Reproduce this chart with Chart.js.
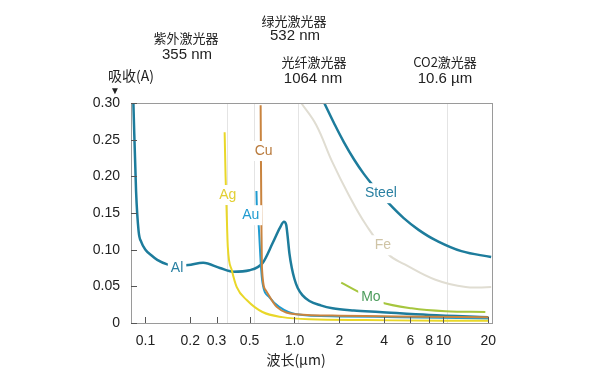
<!DOCTYPE html>
<html>
<head>
<meta charset="utf-8">
<script src="https://cdn.jsdelivr.net/npm/chart.js@4"></script>
<style>
  body { margin: 0; background: #fff; }
  #wrap { width: 600px; height: 373px; }
</style>
</head>
<body>
<div id="wrap"><canvas id="myChart" width="600" height="373"></canvas></div>
<script>
// wavelength (µm) / absorption (A)
const alX = [0.083, 0.0865, 0.09, 0.094, 0.10, 0.11, 0.12, 0.14, 0.165, 0.194, 0.244, 0.316, 0.386, 0.50, 0.612, 0.714, 0.80, 0.85, 0.88, 0.90, 0.925, 0.96, 1.0, 1.05, 1.13, 1.26, 1.5, 1.8, 2.5, 3.7, 8, 20];
const alY = [0.300, 0.180, 0.125, 0.110, 0.100, 0.092, 0.086, 0.080, 0.078, 0.079, 0.082, 0.075, 0.070, 0.072, 0.082, 0.109, 0.130, 0.138, 0.134, 0.118, 0.095, 0.075, 0.060, 0.048, 0.038, 0.030, 0.024, 0.020, 0.017, 0.015, 0.011, 0.008];

const agX = [0.340, 0.345, 0.350, 0.357, 0.38, 0.41, 0.48, 0.61, 0.83, 1.26, 3, 10, 20];
const agY = [0.260, 0.200, 0.158, 0.104, 0.072, 0.049, 0.031, 0.015, 0.008, 0.005, 0.004, 0.003, 0.003];

const auX = [0.556, 0.558, 0.566, 0.575, 0.594, 0.61, 0.68, 0.79, 1.03, 2, 5, 20];
const auY = [0.180, 0.164, 0.150, 0.134, 0.082, 0.055, 0.035, 0.022, 0.012, 0.009, 0.008, 0.006];

const cuX = [0.593, 0.596, 0.600, 0.605, 0.64, 0.76, 1.03, 2, 5, 20];
const cuY = [0.297, 0.220, 0.140, 0.076, 0.045, 0.022, 0.012, 0.010, 0.009, 0.008];

const steelX = [1.585, 1.848, 2.154, 2.512, 2.929, 3.415, 4.30, 5.41, 6.81, 8.84, 13.2, 20.9];
const steelY = [0.300, 0.272, 0.246, 0.223, 0.203, 0.186, 0.163, 0.143, 0.127, 0.113, 0.098, 0.090];

const feX = [1.11, 1.40, 1.79, 2.31, 3.02, 4.3, 5.5, 8.84, 14.1, 20.9];
const feY = [0.300, 0.270, 0.220, 0.175, 0.134, 0.093, 0.080, 0.059, 0.049, 0.049];

const moX = [2.06, 2.71, 3.69, 6.12, 10.3, 19.1];
const moY = [0.055, 0.042, 0.029, 0.020, 0.016, 0.015];

const xTicks = [0.1, 0.2, 0.3, 0.5, 1, 2, 4, 6, 8, 10, 20];
const xTickLabels = ['0.1', '0.2', '0.3', '0.5', '1.0', '2', '4', '6', '8', '10', '20'];
const laserLines = [0.355, 0.532, 1.064, 10.6];

// curve names and where they sit (data units)
const curveNames = ['Al', 'Ag', 'Au', 'Cu', 'Steel', 'Fe', 'Mo'];
const nameX = [0.163, 0.357, 0.509, 0.621, 3.80, 3.92, 3.26];
const nameY = [0.075, 0.1745, 0.147, 0.2345, 0.177, 0.106, 0.0355];
const nameColors = ['#2a80a2', '#e2cf33', '#1f9bd0', '#b97a3c', '#2a80a2', '#cfc4a6', '#4c9c5c'];

const LAT = '"Liberation Sans", Arial, sans-serif';
const CJK = '"Noto Sans CJK SC", "Liberation Sans", sans-serif';

function pts(xs, ys) {
    return xs.map((x, i) => ({x: x, y: ys[i]}));
}

function line(data, color, width, smooth) {
    const ds = {
        data: data,
        borderColor: color,
        borderWidth: width,
        pointRadius: 0,
        fill: false
    };
    if (smooth) ds.tension = 0.4;
    else ds.cubicInterpolationMode = 'monotone';
    return ds;
}

const decor = {
    id: 'decor',
    beforeDatasetsDraw(chart) {
        const {ctx, chartArea: a, scales} = chart;
        ctx.save();
        ctx.strokeStyle = '#e4e4e4';
        ctx.lineWidth = 1;
        laserLines.forEach((v) => {
            const px = Math.round(scales.x.getPixelForValue(v)) + 0.5;
            ctx.beginPath();
            ctx.moveTo(px, a.top);
            ctx.lineTo(px, a.bottom);
            ctx.stroke();
        });
        ctx.restore();
    },
    afterDatasetsDraw(chart) {
        const {ctx, scales} = chart;
        ctx.save();
        ctx.font = '14px ' + LAT;
        ctx.textAlign = 'center';
        ctx.textBaseline = 'middle';
        curveNames.forEach((n, i) => {
            const px = scales.x.getPixelForValue(nameX[i]);
            const py = scales.y.getPixelForValue(nameY[i]);
            const w = ctx.measureText(n).width;
            ctx.fillStyle = '#fff';
            ctx.fillRect(px - w / 2 - 3, py - 10, w + 6, 20);
            ctx.fillStyle = nameColors[i];
            ctx.fillText(n, px, py);
        });
        ctx.restore();
    },
    afterDraw(chart) {
        const {ctx, chartArea: a, scales} = chart;
        ctx.save();
        // frame
        ctx.strokeStyle = '#9a9a9a';
        ctx.lineWidth = 1;
        ctx.strokeRect(a.left + 0.5, a.top + 0.5, a.right - a.left - 1, a.bottom - a.top);
        // inner tick marks
        ctx.strokeStyle = '#555';
        ctx.beginPath();
        xTicks.forEach((v) => {
            const px = Math.round(scales.x.getPixelForValue(v)) + 0.5;
            ctx.moveTo(px, a.bottom);
            ctx.lineTo(px, a.bottom - 6);
        });
        for (let v = 0; v <= 0.3001; v += 0.05) {
            const py = Math.round(scales.y.getPixelForValue(v)) + 0.5;
            ctx.moveTo(a.left, py);
            ctx.lineTo(a.left + 6, py);
        }
        ctx.stroke();

        // texts
        ctx.fillStyle = '#222';
        ctx.textAlign = 'center';
        ctx.textBaseline = 'middle';
        const t = (s, x, y, f) => { ctx.font = f; ctx.fillText(s, x, y); };
        t('紫外激光器', 186, 38, '13px ' + CJK);
        t('355 nm', 187, 55, '15px ' + LAT);
        t('绿光激光器', 294, 21, '13px ' + CJK);
        t('532 nm', 295, 36, '15px ' + LAT);
        t('光纤激光器', 314, 62, '13px ' + CJK);
        t('1064 nm', 313, 79, '15px ' + LAT);
        t('CO2激光器', 445, 62, '13px ' + CJK);
        t('10.6 µm', 445, 79, '15px ' + LAT);
        t('吸收(A)', 131, 76, '14px ' + CJK);
        t('▼', 115, 91, '10px ' + LAT);
        t('波长(µm)', 296, 360, '14px ' + CJK);
        ctx.restore();
    }
};

const ctx = document.getElementById('myChart');
new Chart(ctx,
{
    type: 'line',
    data:
    {
        datasets:
        [
            line(pts(feX, feY), '#e0ddd2', 2, true),
            line(pts(moX, moY), '#a6c63e', 2, true),
            line(pts(agX, agY), '#e9d729', 2),
            line(pts(cuX, cuY), '#c9843f', 2),
            line(pts(auX, auY), '#1f9bd0', 2),
            line(pts(steelX, steelY), '#1d7c9c', 2.5, true),
            line(pts(alX, alY), '#1d7c9c', 2.5)
        ]
    },
    options:
    {
        responsive: false,
        animation: false,
        layout: {padding: {left: 0, right: 107, top: 103, bottom: 0}},
        plugins: {legend: {display: false}, tooltip: {enabled: false}},
        scales:
        {
            x:
            {
                type: 'logarithmic',
                min: 0.08,
                max: 21.5,
                grid: {display: false},
                border: {display: false},
                afterBuildTicks: (s) => { s.ticks = xTicks.map((v) => ({value: v})); },
                afterFit: (s) => { s.height = 50; },
                ticks:
                {
                    autoSkip: false,
                    maxRotation: 0,
                    padding: 2,
                    color: '#222',
                    font: {family: LAT, size: 14},
                    callback: (v, i) => xTickLabels[i]
                }
            },
            y:
            {
                min: 0,
                max: 0.3,
                grid: {display: false},
                border: {display: false},
                afterFit: (s) => { s.width = 131; },
                ticks:
                {
                    stepSize: 0.05,
                    padding: 3,
                    color: '#222',
                    font: {family: LAT, size: 14},
                    callback: (v) => v === 0 ? '0' : v.toFixed(2)
                }
            }
        }
    },
    plugins: [decor]
});
</script>
</body>
</html>
